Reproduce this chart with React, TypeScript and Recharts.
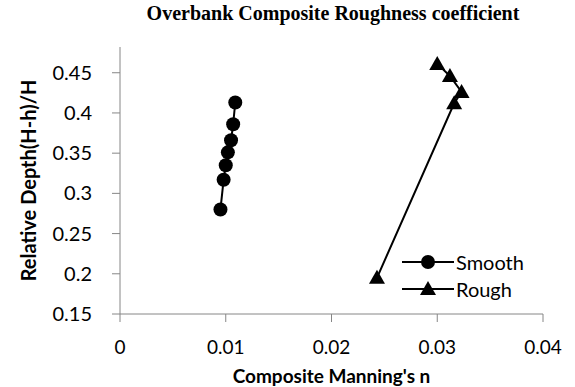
import React from "react";
import { ScatterChart, Scatter, XAxis, YAxis } from "recharts";

// Smooth overbank: composite Manning's n vs relative depth
const smoothN = [0.0095, 0.0098, 0.01, 0.0102, 0.0105, 0.0107, 0.0109];
const smoothDepth = [0.28, 0.317, 0.335, 0.351, 0.366, 0.386, 0.413];

// Rough overbank
const roughN = [0.0243, 0.0316, 0.0323, 0.0312, 0.03];
const roughDepth = [0.195, 0.412, 0.426, 0.446, 0.461];

const seriesNames = ["Smooth", "Rough"];
const xTicks = [0, 0.01, 0.02, 0.03, 0.04];
const yTicks = [0.15, 0.2, 0.25, 0.3, 0.35, 0.4, 0.45];

const smoothData = smoothN.map((n, i) => ({ n, depth: smoothDepth[i] }));
const roughData = roughN.map((n, i) => ({ n, depth: roughDepth[i] }));

const FONT = "Lato, 'Open Sans', sans-serif";
const AXIS_GREY = "#868686";

const CircleDot = (props: any) => {
  const { cx, cy } = props;
  if (cx == null || cy == null) return null;
  return <circle cx={cx} cy={cy} r={7} fill="#000" />;
};

const TriangleDot = (props: any) => {
  const { cx, cy } = props;
  if (cx == null || cy == null) return null;
  const s = 8;
  return (
    <polygon
      points={`${cx},${cy - s} ${cx - s},${cy + s * 0.75} ${cx + s},${cy + s * 0.75}`}
      fill="#000"
    />
  );
};

// legend sits inside the plot, bottom right
const ChartLegend = () => (
  <div style={{ position: "absolute", left: 402, top: 248 }}>
    {seriesNames.map((name, i) => (
      <div key={name} style={{ display: "flex", alignItems: "center", height: 27 }}>
        <svg width={54} height={20}>
          <line x1={0} y1={10} x2={52} y2={10} stroke="#000" strokeWidth={2} />
          {i === 0 ? (
            <circle cx={26} cy={10} r={7} fill="#000" />
          ) : (
            <polygon points="26,2 18,16 34,16" fill="#000" />
          )}
        </svg>
        <span style={{ fontFamily: FONT, fontSize: 20, color: "#000", marginLeft: 0 }}>{name}</span>
      </div>
    ))}
  </div>
);

export default function App() {
  return (
    <div style={{ position: "absolute", left: 0, top: 0, width: 575, height: 387, background: "#fff" }}>
      <div
        style={{
          position: "absolute",
          left: 0,
          top: 2,
          width: 666,
          textAlign: "center",
          fontFamily: "'Liberation Serif', 'Times New Roman', serif",
          fontWeight: "bold",
          fontSize: 20,
          color: "#000",
        }}
      >
        Overbank Composite Roughness coefficient
      </div>
      <ScatterChart width={575} height={387} margin={{ top: 47, right: 32, bottom: 0, left: 0 }}>
        <XAxis
          type="number"
          dataKey="n"
          domain={[0, 0.04]}
          ticks={xTicks}
          tickFormatter={(v: number) => (v === 0 ? "0" : String(Number(v.toFixed(2))))}
          height={73}
          stroke={AXIS_GREY}
          tickSize={8}
          tick={{ fill: "#000", fontSize: 19, fontFamily: FONT }}
          tickMargin={19}
          label={{
            value: "Composite Manning's n",
            position: "insideBottom",
            offset: 4,
            fill: "#000",
            fontSize: 19,
            fontWeight: "bold",
            fontFamily: FONT,
          }}
        />
        <YAxis
          type="number"
          dataKey="depth"
          domain={[0.15, 0.482]}
          ticks={yTicks}
          tickFormatter={(v: number) => String(Number(v.toFixed(2)))}
          width={120}
          stroke={AXIS_GREY}
          tickSize={8}
          tick={{ fill: "#000", fontSize: 20, fontFamily: FONT }}
          tickMargin={20}
          label={{
            value: "Relative Depth(H-h)/H",
            angle: -90,
            position: "insideLeft",
            offset: 29,
            style: { textAnchor: "middle" },
            fill: "#000",
            fontSize: 20,
            fontWeight: "bold",
            fontFamily: FONT,
          }}
        />
        <Scatter
          name={seriesNames[0]}
          data={smoothData}
          line={{ stroke: "#000", strokeWidth: 2 }}
          lineType="joint"
          shape={<CircleDot />}
          fill="#000"
          isAnimationActive={false}
        />
        <Scatter
          name={seriesNames[1]}
          data={roughData}
          line={{ stroke: "#000", strokeWidth: 2 }}
          lineType="joint"
          shape={<TriangleDot />}
          fill="#000"
          isAnimationActive={false}
        />
      </ScatterChart>
      <ChartLegend />
    </div>
  );
}
